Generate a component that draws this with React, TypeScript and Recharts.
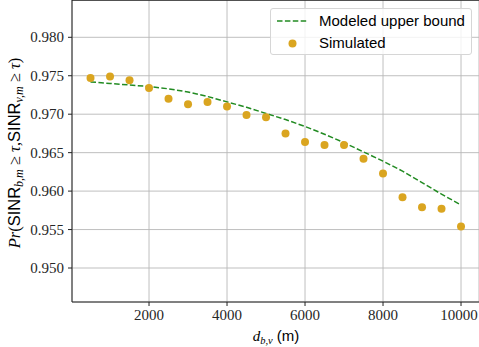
import {
  ComposedChart,
  Line,
  Scatter,
  XAxis,
  YAxis,
  CartesianGrid,
  ReferenceLine,
} from 'recharts'

const distances = [
  500, 1000, 1500, 2000, 2500, 3000, 3500, 4000, 4500, 5000,
  5500, 6000, 6500, 7000, 7500, 8000, 8500, 9000, 9500, 10000,
]
const modeledBound = [
  0.9742, 0.974, 0.9738, 0.9736, 0.9733, 0.9729, 0.9723, 0.9716, 0.9709, 0.9701,
  0.9693, 0.9684, 0.9674, 0.9663, 0.9651, 0.9639, 0.9626, 0.9611, 0.9596, 0.9582,
]
const simulated = [
  0.9747, 0.9749, 0.9744, 0.9734, 0.972, 0.9713, 0.9716, 0.971, 0.9699, 0.9696,
  0.9675, 0.9664, 0.966, 0.966, 0.9642, 0.9623, 0.9592, 0.9579, 0.9577, 0.9554,
]
const xTicks = [2000, 4000, 6000, 8000, 10000]
const yTicks = [0.95, 0.955, 0.96, 0.965, 0.97, 0.975, 0.98]

const X_DOMAIN: [number, number] = [25, 10461]
const Y_DOMAIN: [number, number] = [0.94558, 0.98485]

const GREEN = '#228b22'
const GOLD = '#daa520'
const SERIF = '"Liberation Serif", "DejaVu Serif", serif'
const SANS = '"Liberation Sans", Arial, sans-serif'

const chartData = distances.map((d, i) => ({
  d,
  model: modeledBound[i],
  sim: simulated[i],
}))

function XTick(props: any) {
  const { x, y, payload } = props
  return (
    <text x={x} y={y + 12} textAnchor="middle" fontFamily={SERIF} fontSize={15} fill="#262626">
      {payload.value}
    </text>
  )
}

function YTick(props: any) {
  const { x, y, payload } = props
  return (
    <text x={x} y={y + 5} textAnchor="end" fontFamily={SERIF} fontSize={15} fill="#262626">
      {Number(payload.value).toFixed(3)}
    </text>
  )
}

function XLabel() {
  return (
    <text x={276} y={341} textAnchor="middle" fontSize={15} fill="#000">
      <tspan fontFamily={SERIF} fontStyle="italic">d</tspan>
      <tspan fontFamily={SERIF} fontStyle="italic" fontSize={10.5} dy={3}>b,v</tspan>
      <tspan fontFamily={SANS} dy={-3}> (m)</tspan>
    </text>
  )
}

function YLabel() {
  return (
    <text
      x={0}
      y={0}
      transform="translate(20,153) rotate(-90)"
      textAnchor="middle"
      fontSize={16.5}
      fill="#000"
    >
      <tspan fontFamily={SERIF} fontStyle="italic">Pr</tspan>
      <tspan fontFamily={SERIF}>(</tspan>
      <tspan fontFamily={SANS}>SINR</tspan>
      <tspan fontFamily={SERIF} fontStyle="italic" fontSize={12} dy={3}>b,m</tspan>
      <tspan fontFamily={SERIF} dy={-3}> ≥ </tspan>
      <tspan fontFamily={SERIF} fontStyle="italic">τ</tspan>
      <tspan fontFamily={SERIF}>,</tspan>
      <tspan fontFamily={SANS}>SINR</tspan>
      <tspan fontFamily={SERIF} fontStyle="italic" fontSize={12} dy={3}>v,m</tspan>
      <tspan fontFamily={SERIF} dy={-3}> ≥ </tspan>
      <tspan fontFamily={SERIF} fontStyle="italic">τ</tspan>
      <tspan fontFamily={SERIF}>)</tspan>
    </text>
  )
}

function LegendBox() {
  return (
    <div
      style={{
        position: 'absolute',
        left: 270,
        top: 8,
        width: 202,
        height: 47,
        boxSizing: 'border-box',
        border: '1px solid #d6d6d6',
        borderRadius: 3,
        background: 'rgba(255,255,255,0.8)',
        fontFamily: SANS,
        fontSize: 15,
        color: '#000',
      }}
    >
      <svg width={48} height={47} style={{ position: 'absolute', left: 0, top: 0 }}>
        <line x1={6} x2={37} y1={12} y2={12} stroke={GREEN} strokeWidth={1.5} strokeDasharray="5.5 2.4" />
        <circle cx={21.5} cy={34.5} r={4} fill={GOLD} />
      </svg>
      <div style={{ position: 'absolute', left: 48, top: 3, lineHeight: '18px' }}>Modeled upper bound</div>
      <div style={{ position: 'absolute', left: 48, top: 25, lineHeight: '18px' }}>Simulated</div>
    </div>
  )
}

export default function App() {
  return (
    <div style={{ position: 'relative', width: 479, height: 347, overflow: 'hidden', background: '#fff' }}>
      <style>{`body{margin:0;overflow:hidden}`}</style>
      <ComposedChart
        width={479}
        height={347}
        data={chartData}
        margin={{ top: 0, right: 0, bottom: 15, left: 0 }}
      >
        <CartesianGrid stroke="#b8b8b8" strokeWidth={0.9} />
        <XAxis
          dataKey="d"
          type="number"
          domain={X_DOMAIN}
          ticks={xTicks}
          allowDataOverflow
          height={30}
          tickSize={4}
          axisLine={{ stroke: '#222', strokeWidth: 1 }}
          tickLine={{ stroke: '#222' }}
          tick={<XTick />}
          label={<XLabel />}
        />
        <YAxis
          type="number"
          domain={Y_DOMAIN}
          ticks={yTicks}
          allowDataOverflow
          width={72}
          tickSize={4}
          tickMargin={4}
          axisLine={{ stroke: '#222', strokeWidth: 1 }}
          tickLine={{ stroke: '#222' }}
          tick={<YTick />}
          label={<YLabel />}
        />
        <ReferenceLine y={Y_DOMAIN[1]} stroke="#222" strokeWidth={1.5} />
        <Line
          dataKey="model"
          name="Modeled upper bound"
          type="linear"
          stroke={GREEN}
          strokeWidth={1.5}
          strokeDasharray="5.5 2.4"
          dot={false}
          activeDot={false}
          isAnimationActive={false}
        />
        <Scatter
          dataKey="sim"
          name="Simulated"
          fill={GOLD}
          shape={(p: any) => <circle cx={p.cx} cy={p.cy} r={4} fill={GOLD} />}
          isAnimationActive={false}
        />
      </ComposedChart>
      <LegendBox />
    </div>
  )
}
